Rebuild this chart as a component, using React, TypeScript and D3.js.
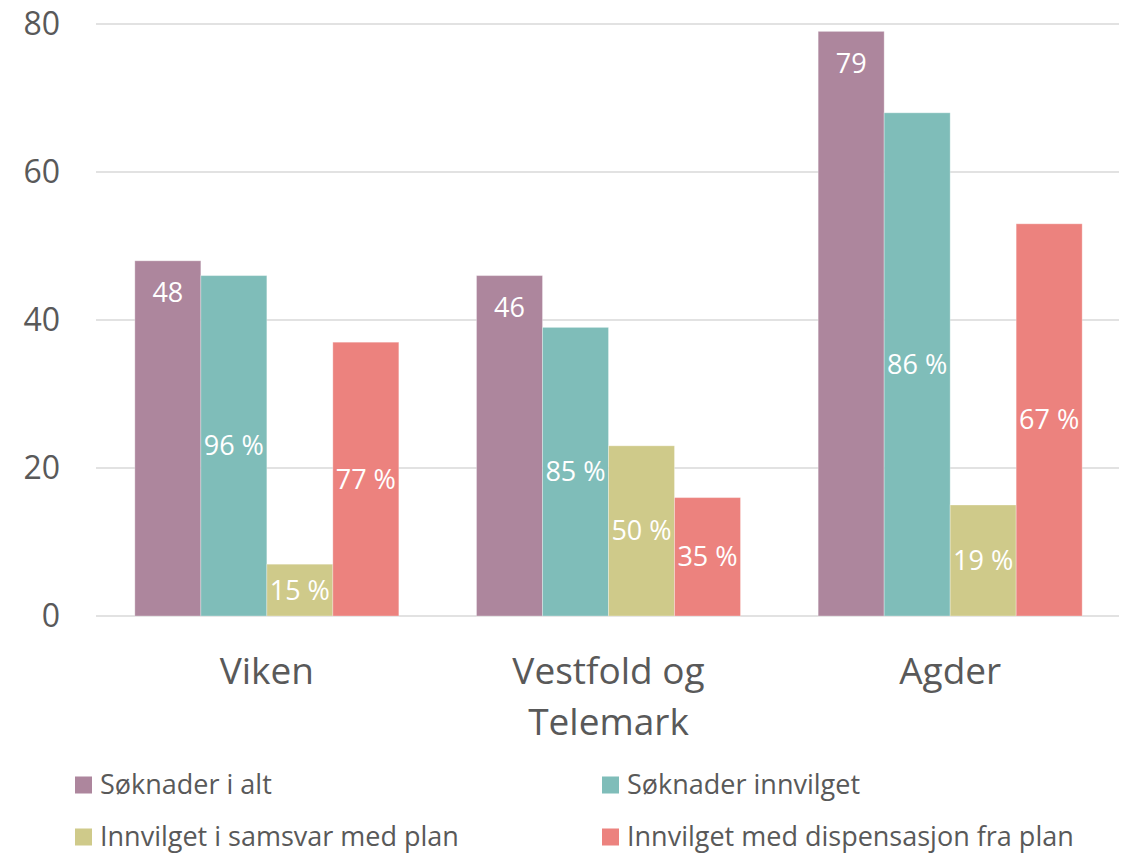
import * as d3 from 'd3';

const categories = ['Viken', 'Vestfold og Telemark', 'Agder'];
const categoryLines = [['Viken'], ['Vestfold og', 'Telemark'], ['Agder']];
const seriesNames = [
  'Søknader i alt',
  'Søknader innvilget',
  'Innvilget i samsvar med plan',
  'Innvilget med dispensasjon fra plan',
];
const seriesColors = ['#AD869D', '#7FBDB9', '#CFCA8A', '#EC827E'];
// values per series, one entry per category
const totalApps = [48, 46, 79];
const granted = [46, 39, 68];
const grantedPlan = [7, 23, 15];
const grantedDisp = [37, 16, 53];
// data labels shown on bars
const totalLabels = ['48', '46', '79'];
const grantedLabels = ['96 %', '85 %', '86 %'];
const planLabels = ['15 %', '50 %', '19 %'];
const dispLabels = ['77 %', '35 %', '67 %'];
const yTicks = [0, 20, 40, 60, 80];

const series = [totalApps, granted, grantedPlan, grantedDisp];
const labels = [totalLabels, grantedLabels, planLabels, dispLabels];

const W = 1122;
const H = 856;
const FONT = '"Open Sans", sans-serif';
const TEXT = '#595959';

export default function App() {
  const x = d3.scaleBand<string>().domain(categories).range([96, 1121]);
  const groupW = 264;
  const inner = d3.scaleBand<number>().domain([0, 1, 2, 3]).range([0, groupW]);
  const y = d3.scaleLinear().domain([0, 80]).range([616, 24]);

  const groupX = (c: string) => x(c)! + (x.bandwidth() - groupW) / 2;

  return (
    <svg width={W} height={H} style={{ position: 'absolute', left: 0, top: 0, background: '#fff' }}>
      {yTicks.map((t) => (
        <g key={t}>
          <line x1={96} x2={1119} y1={y(t)} y2={y(t)} stroke="#D9D9D9" strokeWidth={1.5} />
          <text x={60} y={y(t)} dy="0.35em" textAnchor="end" fontFamily={FONT} fontSize={32} fill={TEXT}>
            {t}
          </text>
        </g>
      ))}
      {categories.map((c, ci) => (
        <g key={c} transform={`translate(${groupX(c)},0)`}>
          {series.map((s, si) => {
            const v = s[ci];
            const bx = inner(si)!;
            const bw = inner.bandwidth();
            const top = y(v);
            const ly = si === 0 ? top + 32 : (top + y(0)) / 2;
            return (
              <g key={si}>
                <rect x={bx} y={top} width={bw} height={y(0) - top} fill={seriesColors[si]} stroke="#fff" strokeOpacity={0.3} strokeWidth={1} />
                <text x={bx + bw / 2} y={ly} dy="0.35em" textAnchor="middle" fontFamily={FONT} fontSize={27} fill="#fff">
                  {labels[si][ci]}
                </text>
              </g>
            );
          })}
          {categoryLines[ci].map((l, li) => (
            <text key={li} x={groupW / 2} y={684 + li * 51} textAnchor="middle" fontFamily={FONT} fontSize={37} fill={TEXT}>
              {l}
            </text>
          ))}
        </g>
      ))}
      {seriesNames.map((n, i) => {
        const lx = i % 2 === 0 ? 75 : 602;
        const ly = i < 2 ? 785 : 837;
        return (
          <g key={n}>
            <rect x={lx} y={ly - 8.5} width={17} height={17} fill={seriesColors[i]} />
            <text x={lx + 25} y={ly} dy="0.35em" fontFamily={FONT} fontSize={27} fill={TEXT}>
              {n}
            </text>
          </g>
        );
      })}
    </svg>
  );
}
